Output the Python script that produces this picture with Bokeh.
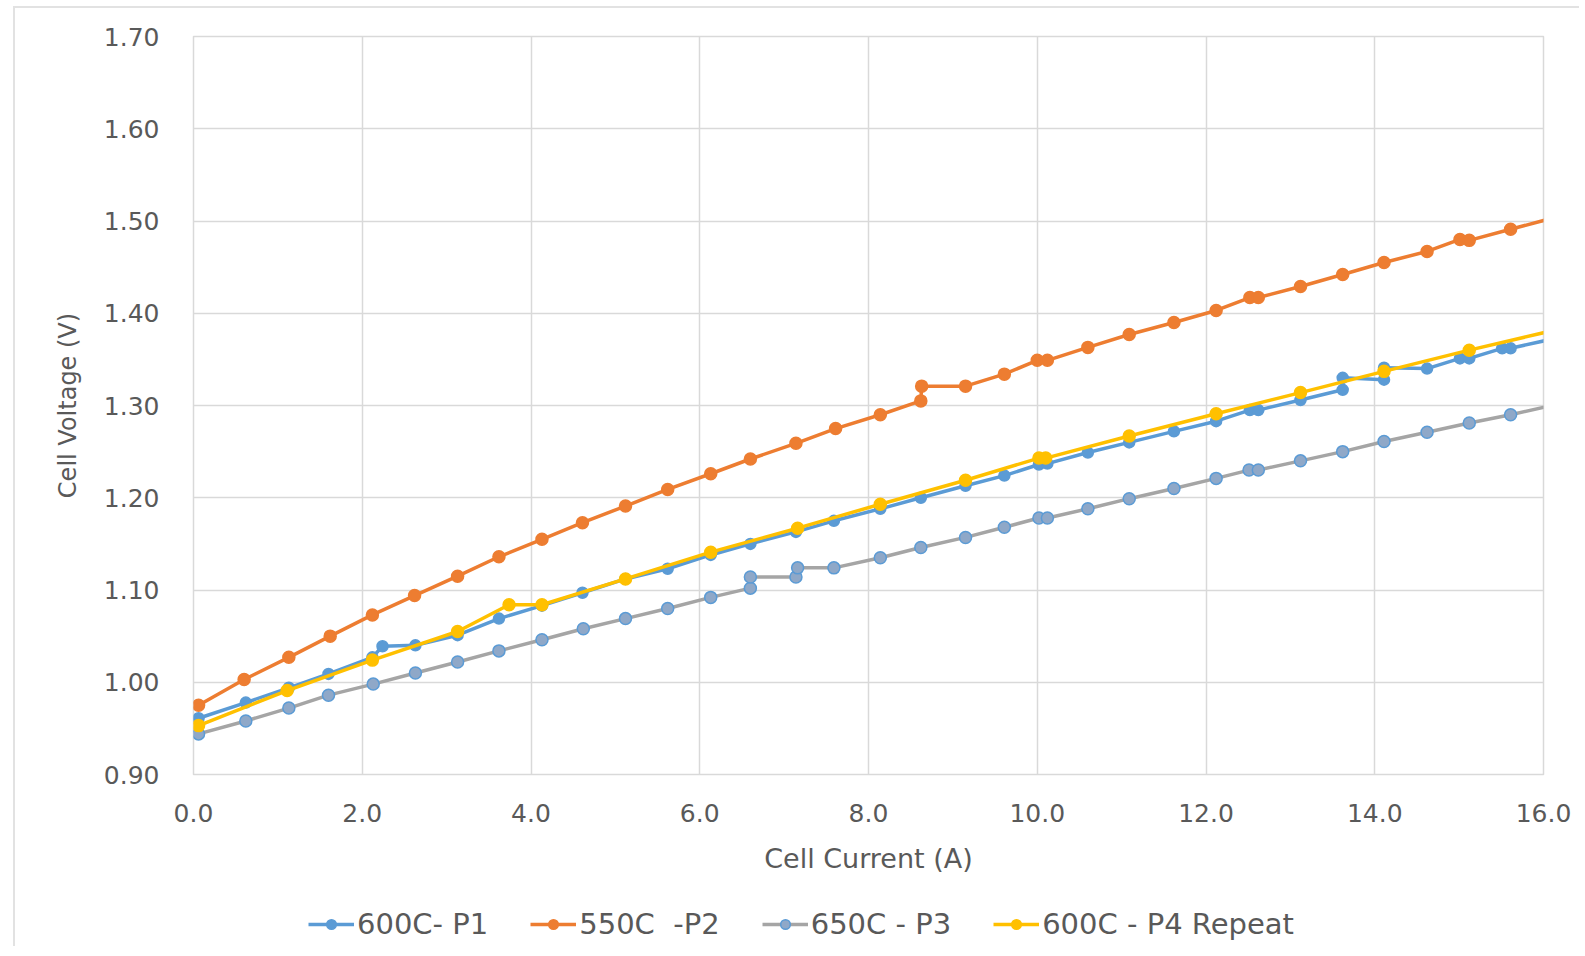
from bokeh.plotting import figure
from bokeh.embed import file_html
from bokeh.resources import INLINE
from bokeh.layouts import column
from bokeh.models import FixedTicker, PrintfTickFormatter, Legend, LegendItem

# ---- data ----
p1_x = [0.06, 0.62, 1.13, 1.60, 2.12, 2.24, 2.63, 3.13, 3.62, 4.13, 4.61, 5.12, 5.62, 6.13, 6.60,
        7.14, 7.59, 8.14, 8.62, 9.15, 9.61, 10.02, 10.12, 10.60, 11.09, 11.62, 12.12, 12.52, 12.62,
        13.12, 13.62, 13.62, 14.11, 14.11, 14.62, 15.01, 15.12, 15.51, 15.61, 16.10]
p1_y = [0.961, 0.978, 0.994, 1.009, 1.027, 1.039, 1.040, 1.051, 1.069, 1.083, 1.097, 1.112, 1.123,
        1.138, 1.150, 1.163, 1.175, 1.188, 1.200, 1.213, 1.224, 1.236, 1.237, 1.249, 1.260, 1.272,
        1.283, 1.295, 1.295, 1.306, 1.317, 1.330, 1.328, 1.341, 1.340, 1.351, 1.351, 1.362, 1.362,
        1.372]

p2_x = [0.06, 0.60, 1.13, 1.62, 2.12, 2.62, 3.13, 3.62, 4.13, 4.61, 5.12, 5.62, 6.13, 6.60, 7.14,
        7.61, 8.14, 8.62, 8.63, 9.15, 9.61, 10.00, 10.12, 10.60, 11.09, 11.62, 12.12, 12.52, 12.62,
        13.12, 13.62, 14.11, 14.62, 15.01, 15.12, 15.61, 16.10]
p2_y = [0.975, 1.003, 1.027, 1.050, 1.073, 1.094, 1.115, 1.136, 1.155, 1.173, 1.191, 1.209, 1.226,
        1.242, 1.259, 1.275, 1.290, 1.305, 1.321, 1.321, 1.334, 1.349, 1.349, 1.363, 1.377, 1.390,
        1.403, 1.417, 1.417, 1.429, 1.442, 1.455, 1.467, 1.480, 1.479, 1.491, 1.503]

p3_x = [0.06, 0.62, 1.13, 1.60, 2.13, 2.63, 3.13, 3.62, 4.13, 4.62, 5.12, 5.62, 6.13, 6.60, 6.60,
        7.14, 7.16, 7.59, 8.14, 8.62, 9.15, 9.61, 10.02, 10.12, 10.60, 11.09, 11.62, 12.12, 12.51,
        12.62, 13.12, 13.62, 14.11, 14.62, 15.12, 15.61, 16.10]
p3_y = [0.944, 0.958, 0.972, 0.986, 0.998, 1.010, 1.022, 1.034, 1.046, 1.058, 1.069, 1.080, 1.092,
        1.102, 1.114, 1.114, 1.124, 1.124, 1.135, 1.146, 1.157, 1.168, 1.178, 1.178, 1.188, 1.199,
        1.210, 1.221, 1.230, 1.230, 1.240, 1.250, 1.261, 1.271, 1.281, 1.290, 1.300]

p4_x = [0.06, 1.11, 2.12, 3.13, 3.74, 4.13, 5.12, 6.13, 7.16, 8.14, 9.15, 10.02, 10.10, 11.09,
        12.12, 13.12, 14.11, 15.12, 16.10]
p4_y = [0.953, 0.991, 1.024, 1.055, 1.084, 1.084, 1.112, 1.141, 1.167, 1.193, 1.219, 1.243, 1.243,
        1.267, 1.291, 1.314, 1.337, 1.360, 1.381]

series_names = ["600C- P1", "550C  -P2", "650C - P3", "600C - P4 Repeat"]
x_ticks = [0, 2, 4, 6, 8, 10, 12, 14, 16]
y_ticks = [0.9, 1.0, 1.1, 1.2, 1.3, 1.4, 1.5, 1.6, 1.7]
x_title = "Cell Current (A)"
y_title = "Cell Voltage (V)"

FONT = "DejaVu Sans"
TXT = "#595959"
GRID = "#d9d9d9"

p = figure(frame_width=1350, frame_height=738, x_range=(0, 16), y_range=(0.9, 1.7),
           output_backend="svg", toolbar_location=None,
           min_border_left=178, min_border_right=34, min_border_top=28, min_border_bottom=128)
p.outline_line_color = GRID
p.outline_line_width = 1.5

for ax, tk, fmt in ((p.xaxis[0], x_ticks, "%.1f"), (p.yaxis[0], y_ticks, "%.2f")):
    ax.ticker = FixedTicker(ticks=tk)
    ax.formatter = PrintfTickFormatter(format=fmt)
    ax.axis_line_color = None
    ax.major_tick_line_color = None
    ax.minor_tick_line_color = None
    ax.major_label_text_font = FONT
    ax.major_label_text_font_size = "25px"
    ax.major_label_text_color = TXT
    ax.axis_label_text_font = FONT
    ax.axis_label_text_font_style = "normal"
    ax.axis_label_text_color = TXT

p.xaxis.axis_label = x_title
p.yaxis.axis_label = y_title
p.xaxis.axis_label_text_font_size = "27px"
p.yaxis.axis_label_text_font_size = "24px"
p.xaxis.major_label_standoff = 23
p.xaxis.axis_label_standoff = 18
p.yaxis.major_label_standoff = 28
p.yaxis.axis_label_standoff = 19

p.xgrid.ticker = FixedTicker(ticks=x_ticks)
p.ygrid.ticker = FixedTicker(ticks=y_ticks)
p.xgrid.grid_line_color = GRID
p.ygrid.grid_line_color = GRID
p.xgrid.grid_line_width = 1.5
p.ygrid.grid_line_width = 1.5

styles = [
    (p1_x, p1_y, "#5B9BD5", "#5B9BD5", "#5B9BD5", 11),
    (p2_x, p2_y, "#ED7D31", "#ED7D31", "#ED7D31", 12),
    (p3_x, p3_y, "#A5A5A5", "#8FA8C8", "#5B9BD5", 12),
    (p4_x, p4_y, "#FFC000", "#FFC000", "#FFC000", 12),
]

# legend strip below the chart: its own small canvas whose ranges lie far from the data,
# so only the legend itself is visible there
lf = figure(width=1564, height=44, x_range=(100, 101), y_range=(100, 101),
            output_backend="svg", toolbar_location=None,
            min_border=0, outline_line_color=None)
lf.axis.visible = False
lf.grid.visible = False

items = []
for (xs, ys, lc, fc, mc, sz), name in zip(styles, series_names):
    p.line(xs, ys, line_color=lc, line_width=3.5)
    p.scatter(xs, ys, marker="circle", size=sz, fill_color=fc, line_color=mc, line_width=1.5)
    klr = lf.line(xs, ys, line_color=lc, line_width=3.5)
    ksr = lf.scatter(xs, ys, marker="circle", size=9, fill_color=fc, line_color=mc, line_width=1.5)
    items.append(LegendItem(label=name, renderers=[klr, ksr]))

legend = Legend(items=items, orientation="horizontal", location=(115, 5),
                border_line_color=None, background_fill_alpha=0,
                label_text_font=FONT, label_text_font_size="29px", label_text_color=TXT,
                glyph_width=46, glyph_height=24, label_standoff=3, spacing=42,
                margin=0, padding=0)
lf.add_layout(legend, "center")

page = column(p, lf, spacing=0)
page.styles = {"margin-left": "13px", "margin-top": "6px",
               "border-left": "2px solid #e2e2e2", "border-top": "2px solid #e2e2e2"}

open("out.html", "w").write(file_html(page, INLINE))
